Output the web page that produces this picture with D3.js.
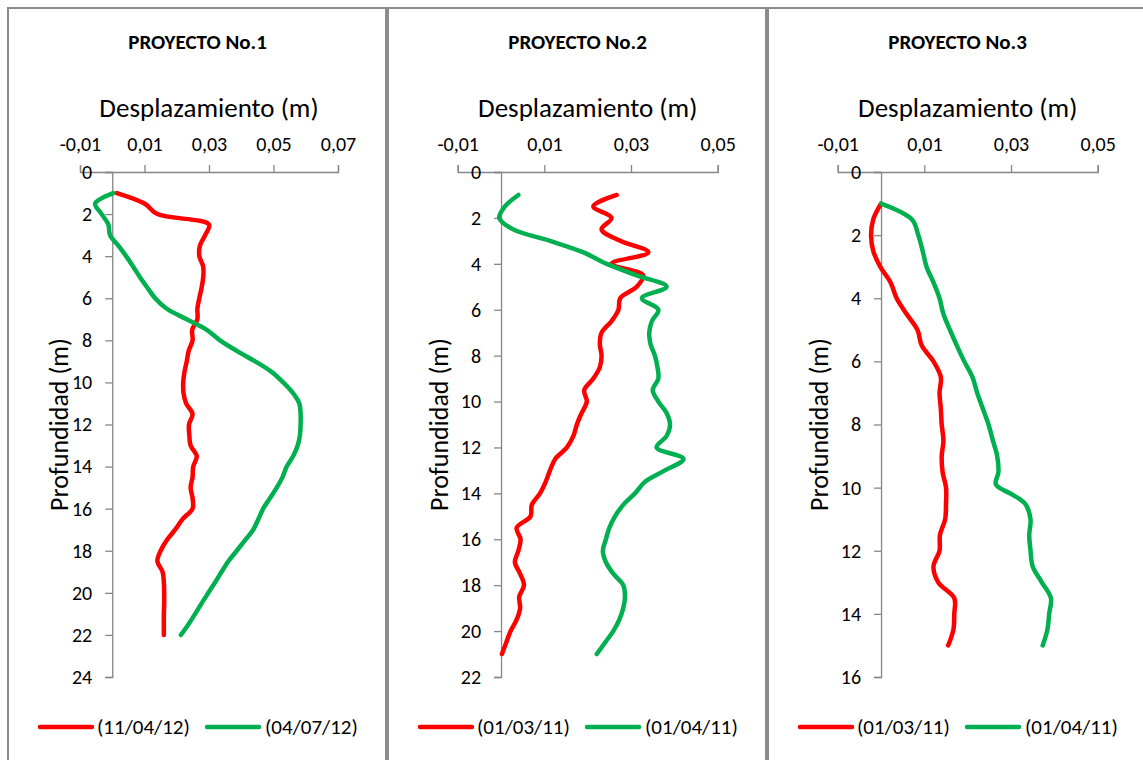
<!DOCTYPE html>
<html>
<head>
<meta charset="utf-8">
<script src="https://cdn.jsdelivr.net/npm/d3@7"></script>
<style>
  html, body { margin: 0; padding: 0; background: #fff; }
  svg { display: block; }
  text { font-family: Carlito, Calibri, Lato, sans-serif; fill: #000; }
</style>
</head>
<body>
<svg id="chart" width="1143" height="760"></svg>
<script>
// Inclinometer profiles: horizontal displacement (m) versus depth (m)

const projectTitles = ["PROYECTO No.1", "PROYECTO No.2", "PROYECTO No.3"];
const seriesLabels = [
  ["(11/04/12)", "(04/07/12)"],
  ["(01/03/11)", "(01/04/11)"],
  ["(01/03/11)", "(01/04/11)"]
];
const xTicks = [
  [-0.01, 0.01, 0.03, 0.05, 0.07],
  [-0.01, 0.01, 0.03, 0.05],
  [-0.01, 0.01, 0.03, 0.05]
];
const depthMax = [24, 22, 16];

// Proyecto No.1
const p1Depth = [1, 1.5, 2, 2.5, 3, 3.5, 4, 4.5, 5, 5.5, 6, 6.5, 7, 7.5, 8, 8.5, 9, 9.5, 10, 10.5, 11,
  11.5, 12, 12.5, 13, 13.5, 14, 14.5, 15, 15.5, 16, 16.5, 17, 17.5, 18, 18.5, 19, 19.5, 20, 20.5, 21, 21.5, 22];
const p1Red = [0.0014, 0.0100, 0.0140, 0.0300, 0.0288, 0.0272, 0.0270, 0.0282, 0.0282, 0.0277, 0.0270,
  0.0264, 0.0264, 0.0248, 0.0249, 0.0237, 0.0231, 0.0224, 0.0220, 0.0221, 0.0229, 0.0249, 0.0238, 0.0239,
  0.0243, 0.0262, 0.0251, 0.0249, 0.0243, 0.0249, 0.0249, 0.0218, 0.0195, 0.0169, 0.0150, 0.0140, 0.0156,
  0.0160, 0.0161, 0.0161, 0.0160, 0.0160, 0.0160];
const p1Green = [0.0003, -0.0053, -0.0033, -0.0012, -0.0007, 0.0019, 0.0043, 0.0065, 0.0086, 0.0109,
  0.0133, 0.0169, 0.0231, 0.0293, 0.0334, 0.0386, 0.0443, 0.0494, 0.0530, 0.0560, 0.0580, 0.0584, 0.0584,
  0.0582, 0.0575, 0.0561, 0.0541, 0.0528, 0.0510, 0.0489, 0.0468, 0.0453, 0.0437, 0.0412, 0.0386, 0.0360,
  0.0339, 0.0319, 0.0298, 0.0277, 0.0257, 0.0236, 0.0213];

// Proyecto No.2
const p2Depth = [1, 1.5, 2, 2.5, 3, 3.5, 4, 4.5, 5, 5.5, 6, 6.5, 7, 7.5, 8, 8.5, 9, 9.5, 10, 10.5, 11,
  11.5, 12, 12.5, 13, 13.5, 14, 14.5, 15, 15.5, 16, 16.5, 17, 17.5, 18, 18.5, 19, 19.5, 20, 20.5, 21];
const p2Red = [0.0267, 0.0213, 0.0255, 0.0232, 0.0275, 0.0340, 0.0255, 0.0328, 0.0313, 0.0275, 0.0271,
  0.0255, 0.0232, 0.0228, 0.0232, 0.0228, 0.0213, 0.0192, 0.0198, 0.0186, 0.0175, 0.0167, 0.0152, 0.0125,
  0.0113, 0.0103, 0.0090, 0.0071, 0.0068, 0.0036, 0.0045, 0.0040, 0.0032, 0.0044, 0.0053, 0.0042, 0.0044,
  0.0036, 0.0022, 0.0012, 0.0002];
const p2Green = [0.0040, 0.0009, -0.0004, 0.0028, 0.0113, 0.0190, 0.0244, 0.0313, 0.0382, 0.0325, 0.0363,
  0.0348, 0.0342, 0.0345, 0.0355, 0.0361, 0.0363, 0.0350, 0.0363, 0.0382, 0.0390, 0.0382, 0.0359, 0.0421,
  0.0378, 0.0332, 0.0309, 0.0282, 0.0263, 0.0250, 0.0242, 0.0235, 0.0242, 0.0259, 0.0282, 0.0286, 0.0282,
  0.0273, 0.0259, 0.0240, 0.0221];

// Proyecto No.3
const p3Depth = [1, 1.5, 2, 2.5, 3, 3.5, 4, 4.5, 5, 5.5, 6, 6.5, 7, 7.5, 8, 8.5, 9, 9.5, 10, 10.5, 11,
  11.5, 12, 12.5, 13, 13.5, 14, 14.5, 15];
const p3Red = [0.0000, -0.0018, -0.0023, -0.0018, -0.0002, 0.0022, 0.0036, 0.0059, 0.0084, 0.0094, 0.0121,
  0.0138, 0.0135, 0.0138, 0.0140, 0.0144, 0.0140, 0.0142, 0.0150, 0.0150, 0.0148, 0.0136, 0.0135, 0.0121,
  0.0132, 0.0169, 0.0169, 0.0167, 0.0155];
const p3GreenDepth = [1, 1.5, 2, 2.5, 3, 3.5, 4, 4.5, 5, 5.5, 6, 6.5, 7, 7.5, 8, 8.5, 9, 9.5, 9.9, 10.2,
  10.5, 11, 11.5, 12, 12.5, 13, 13.5, 14, 14.5, 15];
const p3Green = [0.0000, 0.0071, 0.0086, 0.0096, 0.0105, 0.0121, 0.0135, 0.0144, 0.0159, 0.0175, 0.0192,
  0.0211, 0.0222, 0.0235, 0.0248, 0.0258, 0.0268, 0.0271, 0.0265, 0.0300, 0.0332, 0.0345, 0.0342, 0.0345,
  0.0350, 0.0371, 0.0392, 0.0388, 0.0384, 0.0373];

const panels = [
  { x0: 8,   xDomain: [-0.01, 0.07], xRange: [80, 338],
    series: [{ depth: p1Depth, val: p1Red }, { depth: p1Depth, val: p1Green }] },
  { x0: 388, xDomain: [-0.01, 0.05], xRange: [457.7, 717.7],
    series: [{ depth: p2Depth, val: p2Red }, { depth: p2Depth, val: p2Green }] },
  { x0: 768, xDomain: [-0.01, 0.05], xRange: [837.7, 1097.7],
    series: [{ depth: p3Depth, val: p3Red }, { depth: p3GreenDepth, val: p3Green }] }
];

const colors = ["#ff0000", "#00b050"];
const axisColor = "#868686";
const fontStack = "Carlito, Calibri, Lato, sans-serif";
const tickSize = "20px";
// comma decimal separator and a plain hyphen for negatives
const fmt = v => d3.format(".2f")(v).replace(".", ",").replace("\u2212", "-");

const svg = d3.select("#chart");

panels.forEach((p, i) => {
  const g = svg.append("g");
  const x = d3.scaleLinear().domain(p.xDomain).range(p.xRange);
  const y = d3.scaleLinear().domain([0, depthMax[i]]).range([172, 677]);
  const zeroX = x(0);

  // chart frame
  g.append("rect")
    .attr("x", p.x0).attr("y", 8)
    .attr("width", 378).attr("height", 760)
    .attr("fill", "#fff").attr("stroke", "#8c8c8c").attr("stroke-width", 2);

  const cx = p.x0 + 189.5;
  g.append("text")
    .attr("x", cx).attr("y", 49)
    .attr("text-anchor", "middle")
    .style("font-size", "21px").style("font-weight", "bold")
    .text(projectTitles[i]);

  // displacement axis across the top
  const xAxis = d3.axisTop(x).tickValues(xTicks[i]).tickFormat(fmt).tickSize(7).tickPadding(14);
  const xg = g.append("g").attr("transform", "translate(0,172)").call(xAxis);
  xg.select(".domain").attr("stroke", axisColor).attr("stroke-width", 1.3);
  xg.selectAll(".tick line").attr("stroke", axisColor).attr("stroke-width", 1.3);
  xg.selectAll(".tick text")
    .style("font-size", tickSize).style("font-family", fontStack).attr("fill", "#000");

  g.append("text")
    .attr("x", (p.xRange[0] + p.xRange[1]) / 2).attr("y", 117)
    .attr("text-anchor", "middle")
    .style("font-size", "27px")
    .text("Desplazamiento (m)");

  // depth axis through zero displacement
  const yAxis = d3.axisLeft(y).ticks(depthMax[i] / 2).tickSize(7).tickPadding(13);
  const yg = g.append("g").attr("transform", `translate(${zeroX},0)`).call(yAxis);
  yg.select(".domain").attr("stroke", axisColor).attr("stroke-width", 1.3);
  yg.selectAll(".tick line").attr("stroke", axisColor).attr("stroke-width", 1.3);
  yg.selectAll(".tick text")
    .style("font-size", tickSize).style("font-family", fontStack).attr("fill", "#000");

  g.append("text")
    .attr("transform", `translate(${p.x0 + 51},424.5) rotate(-90)`)
    .attr("text-anchor", "middle")
    .attr("dy", "0.35em")
    .style("font-size", "26px")
    .text("Profundidad (m)");

  // displacement profiles
  const line = d3.line()
    .x(d => x(d[1]))
    .y(d => y(d[0]))
    .curve(d3.curveCatmullRom.alpha(0.5));

  p.series.forEach((s, k) => {
    const pts = s.depth.map((d, j) => [d, s.val[j]]);
    g.append("path")
      .attr("d", line(pts))
      .attr("fill", "none")
      .attr("stroke", colors[k])
      .attr("stroke-width", 4.5)
      .attr("stroke-linecap", "round")
      .attr("stroke-linejoin", "round");
  });

  // legend
  const legendItems = [{ lx: 32, tx: 89 }, { lx: 199, tx: 257 }];
  legendItems.forEach((it, k) => {
    g.append("line")
      .attr("x1", p.x0 + it.lx).attr("x2", p.x0 + it.lx + 52)
      .attr("y1", 727).attr("y2", 727)
      .attr("stroke", colors[k]).attr("stroke-width", 4.5).attr("stroke-linecap", "round");
    g.append("text")
      .attr("x", p.x0 + it.tx).attr("y", 727)
      .attr("dy", "0.35em")
      .style("font-size", "21px")
      .text(seriesLabels[i][k]);
  });
});
</script>
</body>
</html>
